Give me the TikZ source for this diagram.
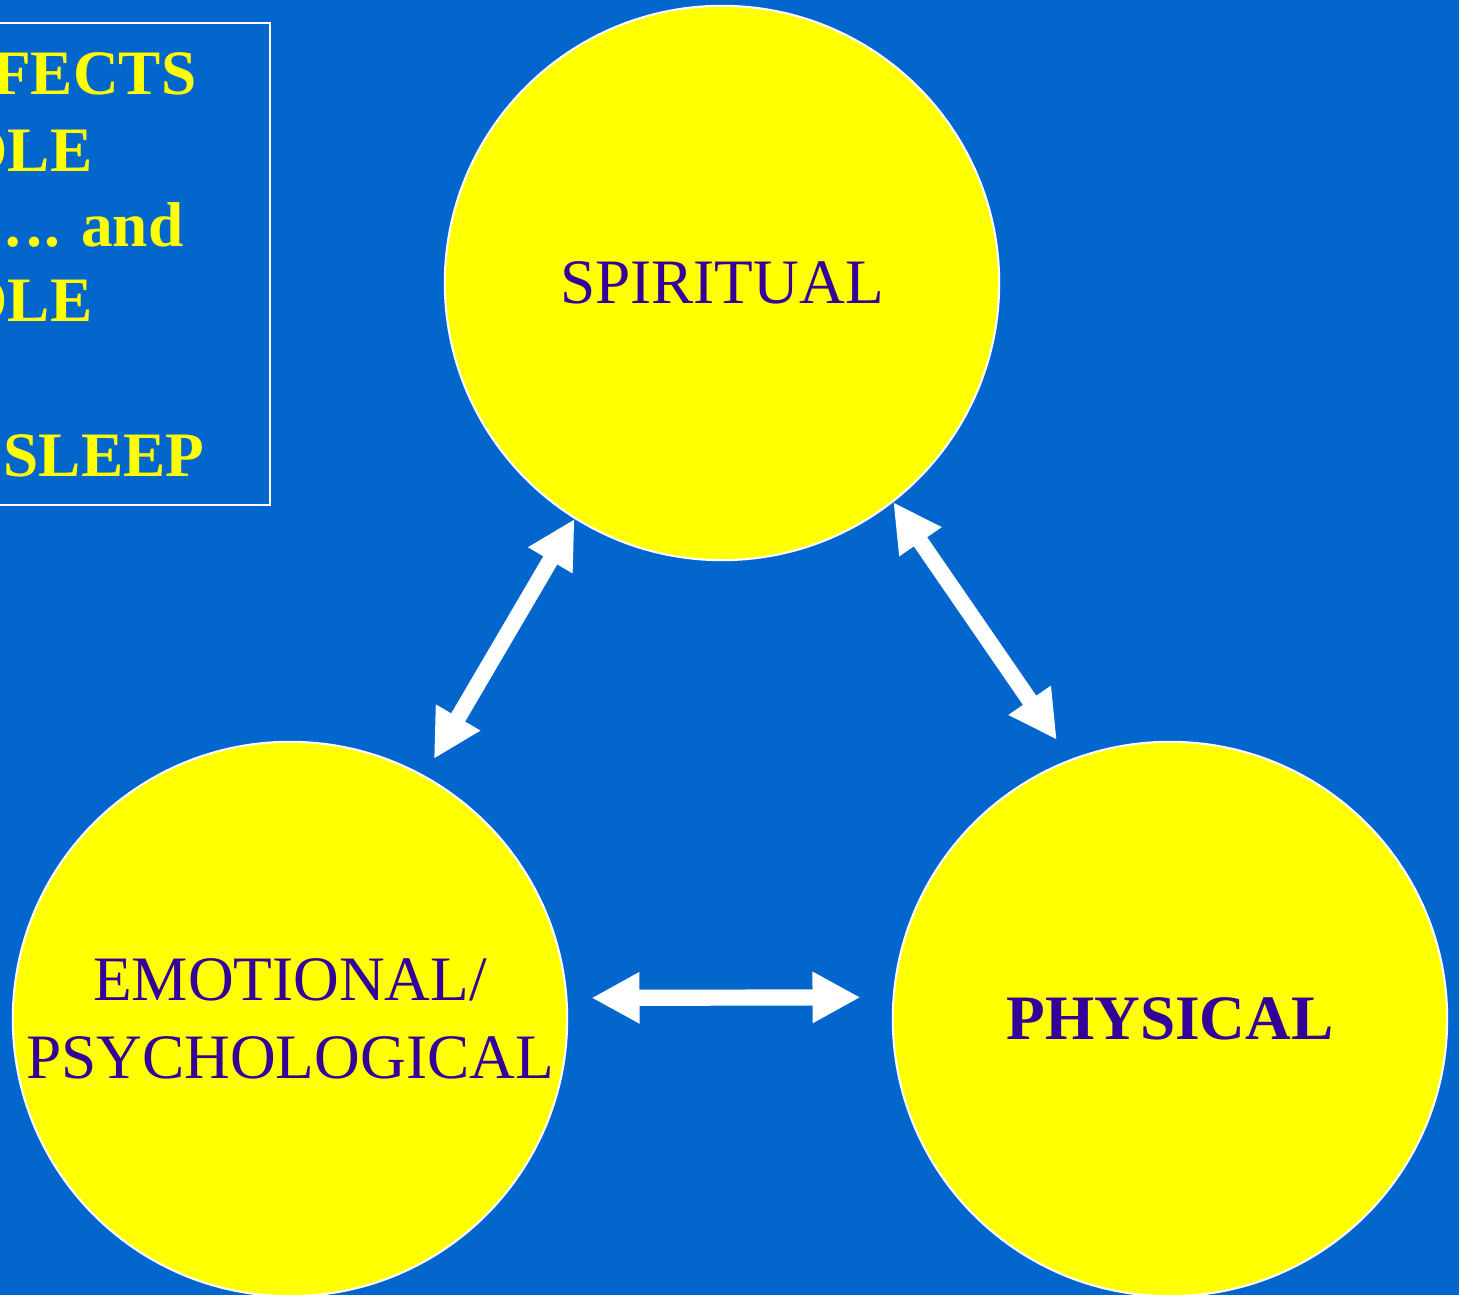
\documentclass[tikz,border=0pt]{standalone}
\usepackage{fontspec}
\setmainfont{Liberation Serif}
\usepackage{xcolor}
\usepackage{tikz}
\usetikzlibrary{arrows.meta}

\definecolor{slideblue}{RGB}{3,102,204}
\definecolor{slideyellow}{RGB}{255,255,0}
\definecolor{slidepurple}{RGB}{51,0,153}

\begin{document}
\begin{tikzpicture}[x=0.01cm, y=0.01cm,
        sphere/.style={circle, draw=white, line width=0.6pt, fill=slideyellow, minimum size=5.54cm, inner sep=0pt, text=slidepurple, align=center, font=\fontsize{18}{22}\selectfont},
        link/.style={draw=white, line width=4.6pt, {Triangle[length=4.8mm, width=4.8mm]}-{Triangle[length=4.8mm, width=4.8mm]}},
        notetext/.style={text=slideyellow, anchor=base east, inner sep=0pt, font=\fontsize{18}{22}\selectfont\bfseries}
        ]

        % Background
        \clip (0,0) rectangle (1459,-1295);
        \fill[slideblue] (0,0) rectangle (1459,-1295);

        % Note box
        \node[draw=white, line width=0.6pt, minimum width=2.85cm, minimum height=4.82cm] (note) at (127.5,-264) {};
        \node[notetext] (noteA) at (197,-95) {FECTS};
        \node[notetext] (noteB) at (93,-172) {OLE};
        \node[notetext] (noteC) at (184,-247) {…. and};
        \node[notetext] (noteD) at (93,-322) {OLE};
        \node[notetext] (noteE) at (205,-477) {SLEEP};

        % Circles
        \node[sphere] (spiritual) at (722,-283) {SPIRITUAL};
        \node[sphere] (emotional) at (290,-1019) {EMOTIONAL/\\PSYCHOLOGICAL};
        \node[sphere, font=\fontsize{18}{22}\selectfont\bfseries] (physical) at (1170,-1019) {PHYSICAL};

        % Links
        \draw[link] ([shift={(61.7:19)}]emotional.61.7) -- (spiritual.238);
        \draw[link] (spiritual.-52) -- ([shift={(112.9:23)}]physical.112.9);
        \draw[link] ([shift={(4:24)}]emotional.4) -- ([shift={(176:32)}]physical.176);

\end{tikzpicture}
\end{document}
